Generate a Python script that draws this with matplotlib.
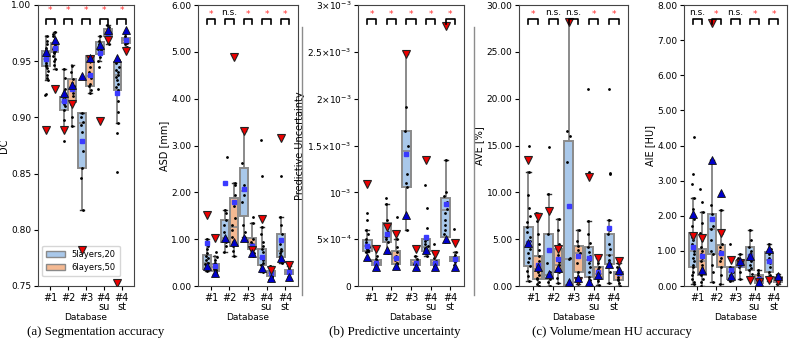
import numpy as np
import matplotlib
matplotlib.use("Agg")
import matplotlib.pyplot as plt
from matplotlib.lines import Line2D
from matplotlib.patches import Patch

db_labels = ['#1', '#2', '#3', '#4\nsu', '#4\nst']
models = ['5layers,20', '6layers,50']

# every list below: 10 entries, (5layers, 6layers) for each database in turn
# box = (whislo, q1, med, q3, whishi)

#a DC
dc_box = [(0.933, 0.946, 0.952, 0.959, 0.972), (0.943, 0.958, 0.962, 0.966, 0.976),
          (0.890, 0.907, 0.914, 0.918, 0.943), (0.892, 0.914, 0.926, 0.934, 0.947),
          (0.818, 0.855, 0.895, 0.904, 0.904), (0.922, 0.928, 0.937, 0.955, 0.955),
          (0.950, 0.956, 0.960, 0.967, 0.972), (0.965, 0.972, 0.975, 0.979, 0.982),
          (0.895, 0.924, 0.938, 0.949, 0.951), (0.963, 0.966, 0.969, 0.971, 0.975)]
dc_mean = [0.952, 0.962, 0.915, 0.925, 0.879, 0.938, 0.957, 0.975, 0.922, 0.969]
dc_up = [0.958, 0.969, 0.922, 0.929, 0.937, 0.953, 0.964, 0.978, 0.953, 0.978]
dc_down = [0.889, 0.925, 0.889, 0.912, 0.782, 0.952, 0.897, 0.969, 0.753, 0.959]
dc_sig = ['*', '*', '*', '*', '*']
dc_pts = [[0.972, 0.968, 0.965, 0.962, 0.960, 0.958, 0.957, 0.955, 0.953, 0.952, 0.951, 0.950,
           0.948, 0.947, 0.946, 0.944, 0.941, 0.938, 0.935, 0.933, 0.921, 0.920],
          [0.976, 0.974, 0.972, 0.970, 0.968, 0.966, 0.965, 0.964, 0.963, 0.962, 0.961, 0.960,
           0.959, 0.958, 0.957, 0.955, 0.952, 0.950, 0.947, 0.943],
          [0.943, 0.935, 0.925, 0.918, 0.916, 0.914, 0.912, 0.910, 0.907, 0.898, 0.890, 0.879],
          [0.946, 0.940, 0.934, 0.931, 0.928, 0.926, 0.922, 0.919, 0.915, 0.912, 0.900, 0.892],
          [0.904, 0.900, 0.896, 0.893, 0.887, 0.880, 0.870, 0.855, 0.846, 0.818],
          [0.955, 0.950, 0.945, 0.940, 0.937, 0.935, 0.930, 0.928, 0.924, 0.922],
          [0.972, 0.968, 0.965, 0.963, 0.961, 0.960, 0.958, 0.957, 0.956, 0.954, 0.950, 0.945, 0.925],
          [0.982, 0.980, 0.978, 0.977, 0.976, 0.975, 0.974, 0.973, 0.972, 0.970, 0.967, 0.965],
          [0.951, 0.948, 0.945, 0.942, 0.940, 0.938, 0.936, 0.933, 0.930, 0.927, 0.924, 0.915,
           0.905, 0.895, 0.886, 0.851],
          [0.975, 0.972, 0.971, 0.970, 0.969, 0.968, 0.967, 0.966, 0.965, 0.963]]

#b ASD
asd_box = [(0.32, 0.36, 0.50, 0.66, 1.00), (0.25, 0.33, 0.40, 0.48, 0.65),
           (0.72, 0.95, 1.02, 1.40, 1.62), (0.65, 0.85, 1.25, 1.88, 2.20),
           (1.05, 1.50, 2.02, 2.52, 3.30), (0.65, 0.78, 0.90, 1.02, 1.35),
           (0.30, 0.45, 0.60, 0.80, 1.25), (0.12, 0.22, 0.28, 0.32, 0.42),
           (0.50, 0.62, 0.75, 1.10, 1.48), (0.15, 0.25, 0.30, 0.35, 0.42)]
asd_mean = [0.92, 0.42, 2.20, 1.80, 2.08, 0.85, 0.62, 0.28, 0.98, 0.30]
asd_up = [0.43, 0.28, 1.02, 0.93, 1.03, 0.70, 0.38, 0.18, 0.60, 0.20]
asd_down = [1.52, 1.02, np.nan, 4.88, 3.32, 0.76, 1.43, 0.35, 3.15, 0.45]
asd_sig = ['*', 'n.s.', '*', '*', '*']
asd_pts = [[1.0, 0.92, 0.85, 0.78, 0.7, 0.65, 0.6, 0.55, 0.5, 0.48, 0.45, 0.42, 0.4, 0.38, 0.36, 0.34, 0.32],
           [0.73, 0.62, 0.55, 0.5, 0.47, 0.44, 0.42, 0.4, 0.38, 0.36, 0.34, 0.32, 0.3, 0.27, 0.25],
           [2.75, 1.62, 1.55, 1.4, 1.3, 1.15, 1.05, 1.0, 0.95, 0.85, 0.72],
           [2.2, 2.15, 1.95, 1.7, 1.45, 1.3, 1.2, 1.05, 0.95, 0.85, 0.75, 0.65],
           [2.62, 2.15, 2.05, 1.95, 1.8, 1.3, 1.15, 1.05],
           [1.48, 1.35, 1.0, 0.95, 0.9, 0.85, 0.8, 0.7, 0.65],
           [3.12, 2.35, 1.25, 1.1, 0.95, 0.85, 0.8, 0.72, 0.65, 0.6, 0.55, 0.5, 0.45, 0.4, 0.35, 0.3],
           [0.42, 0.38, 0.35, 0.32, 0.3, 0.28, 0.25, 0.22, 0.2, 0.15, 0.12],
           [2.35, 1.48, 1.3, 1.1, 1.0, 0.9, 0.8, 0.75, 0.7, 0.65, 0.6, 0.55, 0.5],
           [0.42, 0.38, 0.35, 0.32, 0.3, 0.28, 0.25, 0.2, 0.15]]

#c predictive uncertainty, in units of 1e-4
pu_box = [(3.6, 3.75, 4.3, 4.95, 5.95), (1.8, 2.2, 2.5, 2.8, 4.0),
          (3.5, 4.7, 5.2, 6.7, 8.8), (1.9, 2.3, 3.0, 3.7, 5.0),
          (6.0, 10.6, 14.4, 16.6, 24.8), (1.9, 2.2, 2.5, 2.8, 3.2),
          (3.2, 3.7, 4.2, 5.0, 5.0), (1.8, 2.2, 2.5, 2.8, 3.5),
          (4.7, 5.2, 8.1, 9.4, 13.5), (1.8, 2.7, 2.9, 3.1, 3.6)]
pu_mean = [4.3, 2.5, 5.5, 3.0, 14.1, 2.5, 5.2, 2.5, 8.8, 2.9]
pu_up = [3.1, 2.0, 3.8, 2.1, 7.6, 2.0, 3.8, 2.0, 5.0, 2.0]
pu_down = [10.9, 3.9, 6.3, 5.6, 24.8, 4.0, 13.5, 3.4, 27.8, 4.6]
pu_sig = ['*', '*', '*', '*', '*']
pu_pts = [[7.8, 7.0, 5.95, 5.5, 5.0, 4.7, 4.5, 4.3, 4.2, 4.0, 3.9, 3.8, 3.7, 3.6],
          [4.0, 3.2, 2.9, 2.7, 2.6, 2.5, 2.4, 2.3, 2.2, 2.1, 2.0, 1.9, 1.8],
          [9.4, 8.8, 7.0, 6.5, 5.8, 5.2, 5.0, 4.7, 4.0, 3.5],
          [7.4, 5.0, 4.2, 3.6, 3.2, 3.0, 2.8, 2.5, 2.3, 2.0, 1.9],
          [24.8, 19.1, 16.6, 14.9, 12.0, 11.0, 10.6, 6.0],
          [3.2, 2.9, 2.7, 2.5, 2.3, 2.1, 1.9],
          [10.8, 8.3, 6.2, 5.0, 4.8, 4.5, 4.3, 4.1, 3.9, 3.7, 3.5, 3.2],
          [4.5, 3.5, 3.0, 2.7, 2.5, 2.3, 2.1, 1.9, 1.8],
          [13.5, 10.0, 9.6, 9.0, 8.6, 8.2, 7.8, 7.0, 6.5, 6.0, 5.5, 5.0, 4.7],
          [6.1, 3.6, 3.3, 3.1, 2.9, 2.8, 2.6, 2.2, 1.8]]
pu_ticks = [0, 5, 10, 15, 20, 25, 30]
pu_ticklabels = ['0', r'$5{\times}10^{-4}$', r'$10^{-3}$', r'$1.5{\times}10^{-3}$',
                 r'$2{\times}10^{-3}$', r'$2.5{\times}10^{-3}$', r'$3{\times}10^{-3}$']

#c AVE
ave_box = [(0.5, 2.1, 4.3, 6.3, 12.2), (0.0, 0.7, 1.8, 3.2, 7.8),
           (0.0, 0.8, 1.2, 5.5, 9.8), (0.3, 1.5, 2.2, 4.0, 7.1),
           (0.0, 0.1, 2.9, 15.5, 28.5), (0.2, 1.5, 3.5, 4.3, 6.0),
           (0.0, 1.0, 2.8, 4.2, 6.9), (0.1, 0.8, 1.3, 2.0, 3.0),
           (0.3, 2.4, 3.3, 5.6, 7.0), (0.0, 0.6, 1.3, 1.5, 2.5)]
ave_mean = [4.6, 2.2, 3.8, 2.9, 8.5, 3.2, 3.0, 1.5, 6.2, 1.4]
ave_up = [4.6, 2.0, 1.3, 1.9, 0.4, 0.9, 0.4, 1.2, 2.4, 1.7]
ave_down = [13.4, 7.4, 8.0, 3.9, 28.2, 0.5, 11.6, 3.0, np.nan, 2.7]
ave_sig = ['*', 'n.s.', 'n.s.', '*', '*']
ave_pts = [[15.0, 12.2, 9.7, 8.3, 7.5, 6.8, 6.3, 5.8, 5.2, 4.8, 4.3, 3.9, 3.5, 3.0, 2.6, 2.1, 1.6, 1.1, 0.5],
           [7.8, 6.9, 5.6, 4.5, 3.8, 3.2, 2.7, 2.2, 1.8, 1.5, 1.2, 0.9, 0.7, 0.4, 0.2, 0.0],
           [14.8, 9.8, 8.0, 5.5, 3.8, 2.5, 1.5, 1.2, 0.8, 0.4, 0.0],
           [7.1, 6.0, 4.5, 4.0, 3.3, 2.6, 2.2, 1.8, 1.5, 0.9, 0.3],
           [28.5, 16.6, 16.0, 13.2, 3.0, 2.9, 0.4, 0.1, 0.0],
           [6.0, 4.8, 4.3, 3.8, 3.5, 2.5, 1.5, 0.5, 0.2],
           [21.0, 12.2, 6.9, 5.5, 4.6, 4.2, 3.6, 3.2, 2.8, 2.5, 2.0, 1.5, 1.0, 0.6, 0.0],
           [3.0, 2.5, 2.0, 1.8, 1.5, 1.3, 1.1, 0.9, 0.8, 0.5, 0.1],
           [21.0, 12.1, 12.0, 7.0, 6.0, 5.6, 4.5, 4.0, 3.3, 2.8, 2.4, 1.5, 0.3],
           [2.5, 2.0, 1.7, 1.5, 1.4, 1.3, 1.0, 0.8, 0.6, 0.3, 0.0]]

#c AIE
aie_box = [(0.05, 0.54, 1.0, 1.5, 2.5), (0.0, 0.3, 0.7, 1.06, 2.1),
           (0.1, 0.92, 1.62, 2.06, 3.6), (0.05, 0.54, 0.9, 1.16, 2.15),
           (0.15, 0.2, 0.4, 0.55, 0.55), (0.2, 0.55, 0.65, 0.72, 0.9),
           (0.2, 0.45, 0.78, 1.11, 1.6), (0.0, 0.08, 0.2, 0.3, 0.45),
           (0.15, 0.4, 0.75, 0.97, 1.2), (0.05, 0.12, 0.2, 0.25, 0.35)]
aie_mean = [1.1, 0.85, 1.9, 0.95, 0.45, 0.62, 0.85, 0.2, 0.7, 0.2]
aie_up = [2.05, 0.45, 3.6, 2.65, 0.28, 0.72, 0.85, 0.1, 1.05, 0.28]
aie_down = [1.42, 1.38, 7.5, 1.5, 0.75, 0.65, 0.18, 0.1, 0.18, 0.15]
aie_sig = ['n.s.', '*', 'n.s.', '*', '*']
aie_pts = [[4.25, 3.2, 2.9, 2.5, 2.2, 1.9, 1.7, 1.5, 1.4, 1.3, 1.2, 1.1, 1.0, 0.9, 0.8, 0.7, 0.6,
            0.54, 0.4, 0.3, 0.2, 0.1, 0.05],
           [2.75, 2.4, 2.1, 1.8, 1.5, 1.3, 1.1, 1.0, 0.9, 0.8, 0.7, 0.6, 0.5, 0.4, 0.3, 0.2, 0.1, 0.0],
           [3.6, 2.3, 2.06, 1.9, 1.7, 1.62, 1.3, 1.0, 0.92, 0.6, 0.4, 0.1],
           [2.15, 1.5, 1.2, 1.1, 1.0, 0.9, 0.8, 0.7, 0.54, 0.3, 0.05],
           [1.2, 0.55, 0.45, 0.4, 0.3, 0.2, 0.15],
           [0.9, 0.8, 0.72, 0.68, 0.65, 0.6, 0.55, 0.4, 0.2],
           [1.6, 1.3, 1.11, 1.0, 0.9, 0.85, 0.78, 0.7, 0.6, 0.5, 0.45, 0.35, 0.2],
           [0.45, 0.38, 0.3, 0.25, 0.2, 0.15, 0.1, 0.08, 0.0],
           [1.2, 1.05, 0.97, 0.9, 0.8, 0.75, 0.65, 0.55, 0.4, 0.3, 0.15],
           [0.35, 0.3, 0.25, 0.22, 0.2, 0.15, 0.12, 0.05]]

blue_box = '#a9c8ea'
orange_box = '#f4b992'
edge = '#8a8a8a'
rng = np.random.default_rng(7)   # only for horizontal jitter of the dots


def panel(rect, box, mean, pts, up, down, sig, ylim, ylabel, star_dy=0.0):
    ax = fig.add_axes(rect)
    pos = []
    for i in range(5):
        pos += [i + 1 - 0.23, i + 1 + 0.23]
    stats = []
    for b in box:
        stats.append(dict(whislo=b[0], q1=b[1], med=b[2], q3=b[3], whishi=b[4], fliers=[]))
    bp = ax.bxp(stats, positions=pos, widths=0.44, patch_artist=True,
                boxprops=dict(edgecolor=edge, linewidth=1.4),
                whiskerprops=dict(color=edge, linewidth=1.4),
                capprops=dict(color='#333333', linewidth=1.0),
                medianprops=dict(color=edge, linewidth=1.2),
                capwidths=0.2)
    for k, patch in enumerate(bp['boxes']):
        patch.set_facecolor(blue_box if k % 2 == 0 else orange_box)
    for p, v in zip(pos, pts):
        xj = p + rng.uniform(-0.08, 0.08, len(v))
        ax.plot(xj, v, '.', color='k', markersize=2.0, zorder=4)
    ax.plot(pos, mean, 's', color='#3b3bff', markersize=2.2, zorder=5)
    ax.plot(pos, down, 'v', color='#ee0000', mec='#222222', mew=0.8, markersize=6, zorder=6)
    ax.plot(pos, up, '^', color='#0000cc', mec='#111111', mew=0.6, markersize=6, zorder=6)
    ax.set_ylim(ylim)
    ax.set_xlim(0.3, 5.7)
    # significance brackets
    tr = ax.get_xaxis_transform()
    for i, s in enumerate(sig):
        x0, x1 = pos[2 * i], pos[2 * i + 1]
        ax.plot([x0, x0, x1, x1], [0.934, 0.95, 0.95, 0.934], color='k', lw=1.2,
                transform=tr, clip_on=False, zorder=7)
        if s == '*':
            ax.text((x0 + x1) / 2, 0.965 + star_dy, '*', color='#ff3030', fontsize=6.5,
                    ha='center', va='center', transform=tr)
        else:
            ax.text((x0 + x1) / 2, 0.973, 'n.s.', color='k', fontsize=6.5,
                    ha='center', va='center', transform=tr)
    ax.set_xticks(range(1, 6))
    ax.set_xticklabels(db_labels, fontsize=7, linespacing=0.9)
    ax.tick_params(axis='y', labelsize=6.5)
    ax.tick_params(length=3, pad=1.8)
    ax.set_xlabel('Database', fontsize=6.5, labelpad=1)
    ax.set_ylabel(ylabel, fontsize=7, labelpad=1.5)
    for sp in ax.spines.values():
        sp.set_color('#444444')
    return ax


W, H = 793.0, 349.0
fig = plt.figure(figsize=(7.93, 3.49), dpi=100)


def rect(x0, x1):
    return [x0 / W, 1 - 286 / H, (x1 - x0) / W, 281 / H]


ax1 = panel(rect(38, 134), dc_box, dc_mean, dc_pts, dc_up, dc_down, dc_sig,
            (0.75, 1.0), 'DC', star_dy=0.017)
ax1.yaxis.set_major_formatter(matplotlib.ticker.FormatStrFormatter('%.2f'))
ax1.legend(handles=[Patch(facecolor=blue_box, edgecolor=edge, label=models[0]),
                    Patch(facecolor=orange_box, edgecolor=edge, label=models[1])],
           loc='lower left', fontsize=6, handlelength=2.2, borderpad=0.5,
           handletextpad=0.8, bbox_to_anchor=(0.0, 0.02))

ax2 = panel(rect(198, 298), asd_box, asd_mean, asd_pts, asd_up, asd_down, asd_sig,
            (0, 6), 'ASD [mm]')
ax2.yaxis.set_major_formatter(matplotlib.ticker.FormatStrFormatter('%.2f'))

ax3 = panel(rect(358, 464), pu_box, pu_mean, pu_pts, pu_up, pu_down, pu_sig,
            (0, 30), 'Predictive Uncertainty')
ax3.set_yticks(pu_ticks)
ax3.set_yticklabels(pu_ticklabels, fontsize=6.5)

ax4 = panel(rect(519, 628), ave_box, ave_mean, ave_pts, ave_up, ave_down, ave_sig,
            (0, 30), 'AVE [%]')
ax4.yaxis.set_major_formatter(matplotlib.ticker.FormatStrFormatter('%.2f'))

ax5 = panel(rect(684, 787), aie_box, aie_mean, aie_pts, aie_up, aie_down, aie_sig,
            (0, 8), 'AIE [HU]')
ax5.yaxis.set_major_formatter(matplotlib.ticker.FormatStrFormatter('%.2f'))

# separators between sub-figures
for xl in [302, 474]:
    fig.add_artist(Line2D([xl / W, xl / W], [1 - 295 / H, 1 - 27 / H], color='#8c8c8c', lw=1.0))

# sub-figure captions
cap_y = 1 - 332 / H
fig.text(96 / W, cap_y, '(a) Segmentation accuracy', family='Liberation Serif',
         fontsize=9.3, ha='center', va='center')
fig.text(395 / W, cap_y, '(b) Predictive uncertainty', family='Liberation Serif',
         fontsize=9.3, ha='center', va='center')
fig.text(612 / W, cap_y, '(c) Volume/mean HU accuracy', family='Liberation Serif',
         fontsize=9.3, ha='center', va='center')

fig.savefig('out.png', dpi=100)
